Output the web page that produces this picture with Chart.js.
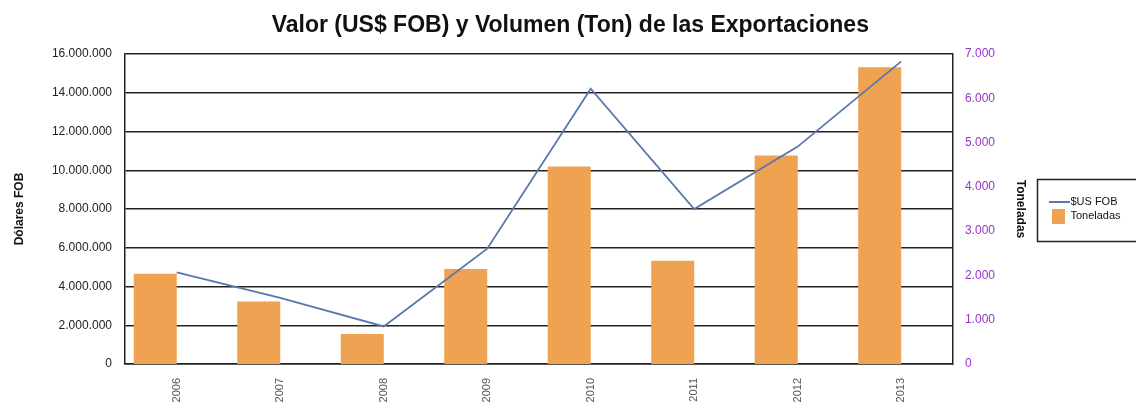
<!DOCTYPE html>
<html>
<head>
<meta charset="utf-8">
<script src="https://cdn.jsdelivr.net/npm/chart.js@4.4.1/dist/chart.umd.min.js"></script>
<style>
  html, body { margin: 0; padding: 0; background: #fff; }
  #wrap { position: relative; width: 1136px; height: 407px; }
</style>
</head>
<body>
<div id="wrap"><canvas id="c" width="1136" height="407"></canvas></div>
<script>
const categories = ['2006', '2007', '2008', '2009', '2010', '2011', '2012', '2013'];
const fobValues = [4730000, 3410000, 1940000, 5950000, 14210000, 8000000, 11220000, 15620000];
const tonValues = [2040, 1410, 680, 2145, 4460, 2330, 4710, 6700];
const fobTicks = { min: 0, max: 16000000, step: 2000000 };
const tonTicks = { min: 0, max: 7000, step: 1000 };

const FONT = '"Liberation Sans", Arial, sans-serif';

function fmt(v) { return String(v).replace(/\B(?=(\d{3})+(?!\d))/g, '.'); }

function swatch(w, h, color) {
  const c = document.createElement('canvas');
  c.width = w; c.height = h;
  const g = c.getContext('2d');
  g.fillStyle = color; g.fillRect(0, 0, w, h);
  return c;
}
const LINE_COLOR = '#5878AB';
const BAR_COLOR = '#EFA252';
const lineSwatch = swatch(24, 2, LINE_COLOR);
const barSwatch = swatch(13, 15, BAR_COLOR);

const legendBorder = {
  id: 'legendBorder',
  afterDraw(chart) {
    const lg = chart.legend;
    if (!lg || !lg.legendHitBoxes || !lg.legendHitBoxes.length) return;
    const hb = lg.legendHitBoxes;
    const first = hb[0], last = hb[hb.length - 1];
    const ctx = chart.ctx;
    ctx.save();
    ctx.strokeStyle = '#222';
    ctx.lineWidth = 1.5;
    const l = first.left - 15, t = first.top - 17.5, b = last.top + last.height + 19;
    ctx.strokeRect(Math.round(l) + 0.5, Math.round(t) + 0.5, chart.width + 20 - l, Math.round(b - t));
    ctx.restore();
  }
};

new Chart(document.getElementById('c'), {
  data: {
    labels: categories,
    datasets: [
      {
        type: 'line', label: '$US FOB', data: fobValues, yAxisID: 'y',
        borderColor: LINE_COLOR, backgroundColor: LINE_COLOR, borderWidth: 1.8,
        pointRadius: 0, tension: 0, order: 0, pointStyle: lineSwatch
      },
      {
        type: 'bar', label: 'Toneladas', data: tonValues, yAxisID: 'yR',
        backgroundColor: BAR_COLOR, borderWidth: 0, order: 1, pointStyle: barSwatch,
        categoryPercentage: 0.831, barPercentage: 1.0
      },
      {
        type: 'bar', label: '_spacer', data: categories.map(() => null), yAxisID: 'yR',
        backgroundColor: 'rgba(0,0,0,0)', order: 2,
        categoryPercentage: 0.831, barPercentage: 1.0
      }
    ]
  },
  options: {
    responsive: false,
    animation: false,
    devicePixelRatio: 1,
    layout: { padding: { left: 10, right: 5.4, top: 0, bottom: 0 } },
    plugins: {
      title: {
        display: true,
        text: 'Valor (US$ FOB) y Volumen (Ton) de las Exportaciones',
        color: '#111',
        font: { family: FONT, size: 23, weight: 'bold' },
        padding: { top: 12, bottom: 14.4 }
      },
      legend: {
        display: true,
        position: 'right',
        fullSize: false,
        labels: {
          usePointStyle: true,
          pointStyleWidth: 13,
          padding: 3,
          color: '#111',
          font: { family: FONT, size: 11 },
          filter: (item) => item.text !== '_spacer'
        }
      },
      tooltip: { enabled: false }
    },
    scales: {
      x: {
        afterFit: (s) => { s.height = 43; },
        grid: { display: false, drawTicks: false },
        border: { display: true, color: '#222', width: 1.5 },
        ticks: { minRotation: 90, maxRotation: 90, padding: 14, color: '#555', font: { family: FONT, size: 11 } }
      },
      y: {
        position: 'left',
        min: fobTicks.min, max: fobTicks.max,
        afterFit: (s) => { s.width = 115; },
        grid: { display: true, color: '#222', lineWidth: 1.5, drawTicks: false },
        border: { display: true, color: '#222', width: 1.5 },
        ticks: { stepSize: fobTicks.step, padding: 13, color: '#222', font: { family: FONT, size: 12 }, callback: (v) => fmt(v) },
        title: { display: true, text: 'Dólares FOB', color: '#111', font: { family: FONT, size: 12, weight: 'bold' }, padding: { top: 2, bottom: 0 } }
      },
      yR: {
        position: 'right',
        min: tonTicks.min, max: tonTicks.max,
        afterFit: (s) => { s.width = 96; },
        grid: { display: false, drawTicks: false },
        border: { display: true, color: '#222', width: 1.5 },
        ticks: { stepSize: tonTicks.step, padding: 12, color: '#9932CC', font: { family: FONT, size: 12 }, callback: (v) => fmt(v) },
        title: { display: true, text: 'Toneladas', color: '#111', font: { family: FONT, size: 12, weight: 'bold' }, padding: { top: 21, bottom: 0 } }
      }
    }
  },
  plugins: [legendBorder]
});
</script>
</body>
</html>
